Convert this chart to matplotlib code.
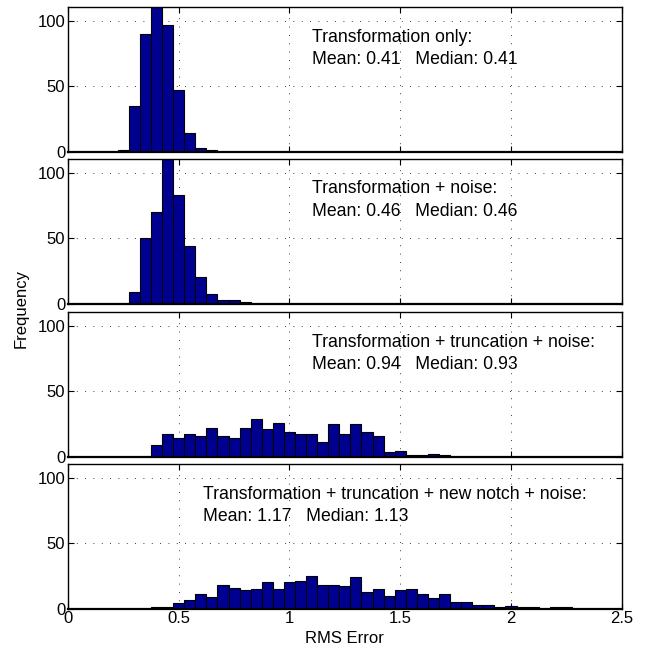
import numpy as np
from matplotlib import pyplot as plt

plt.rcParams['font.family'] = ['Liberation Sans', 'DejaVu Sans']

BIN_WIDTH = 0.05

# first bin centre and counts for each panel
START_1 = 0.25
COUNTS_1 = [1, 35, 90, 112, 97, 47, 14, 2.5, 1]

START_2 = 0.30
COUNTS_2 = [9, 50, 70, 113, 83, 44, 20, 7, 3, 3, 1]

START_3 = 0.40
COUNTS_3 = [9, 17, 14, 17, 16, 22, 16, 14, 22, 29, 21, 26, 19, 17, 17, 11,
            25, 17, 25, 19, 16, 3.5, 4, 1, 1, 2, 1]

START_4 = 0.40
COUNTS_4 = [1.5, 1.5, 4, 7, 11, 9, 18, 16, 14, 15, 20, 15, 20, 21, 25, 18,
            18, 17, 24, 13, 15, 10, 14, 15, 11, 8, 11, 5, 5, 3, 3, 1, 2, 1,
            1, 0, 1, 1]

LABELS = [
    "Transformation only:\nMean: 0.41   Median: 0.41",
    "Transformation + noise:\nMean: 0.46   Median: 0.46",
    "Transformation + truncation + noise:\nMean: 0.94   Median: 0.93",
    "Transformation + truncation + new notch + noise:\nMean: 1.17   Median: 1.13",
]
LABEL_X = [1.10, 1.10, 1.10, 0.61]

PANELS = [(START_1, COUNTS_1), (START_2, COUNTS_2), (START_3, COUNTS_3), (START_4, COUNTS_4)]

# axes placement in figure fractions (left, bottom, width, height)
BOTTOMS = [0.7691, 0.5378, 0.3049, 0.0735]
LEFT = 0.105
WIDTH = 0.856
HEIGHT = 0.2195


def draw_panel(ax, start, counts, label, label_x, last):
    centers = start + BIN_WIDTH * np.arange(len(counts))
    ax.bar(centers, counts, width=BIN_WIDTH, color='#000090', edgecolor='black', linewidth=0.8)
    ax.set_xlim(0, 2.5)
    ax.set_ylim(0, 110)
    ax.set_yticks([0, 50, 100])
    ax.set_xticks([0, 0.5, 1, 1.5, 2, 2.5])
    ax.grid(True, linestyle=(0, (1, 9)), color='black', linewidth=0.6)
    ax.set_axisbelow(True)
    ax.tick_params(direction='in', top=True, right=True, labelsize=12, length=4, pad=2)
    if not last:
        ax.tick_params(labelbottom=False)
    else:
        ax.set_xticklabels(['0', '0.5', '1', '1.5', '2', '2.5'])
    for s in ax.spines.values():
        s.set_linewidth(1.0)
    ax.spines['bottom'].set_linewidth(1.6)
    ax.text(label_x, 79, label, fontsize=12.7, va='center', ha='left', linespacing=1.4)


def main():
    fig = plt.figure(figsize=(6.47, 6.57), dpi=100)
    for i, (start, counts) in enumerate(PANELS):
        ax = fig.add_axes([LEFT, BOTTOMS[i], WIDTH, HEIGHT])
        draw_panel(ax, start, counts, LABELS[i], LABEL_X[i], i == len(PANELS) - 1)
        if i == len(PANELS) - 1:
            ax.set_xlabel('RMS Error', fontsize=12, labelpad=3)
    fig.text(0.032, 0.531, 'Frequency', rotation=90, fontsize=12, ha='center', va='center')
    fig.savefig('out.png', dpi=100)


if __name__ == '__main__':
    main()
